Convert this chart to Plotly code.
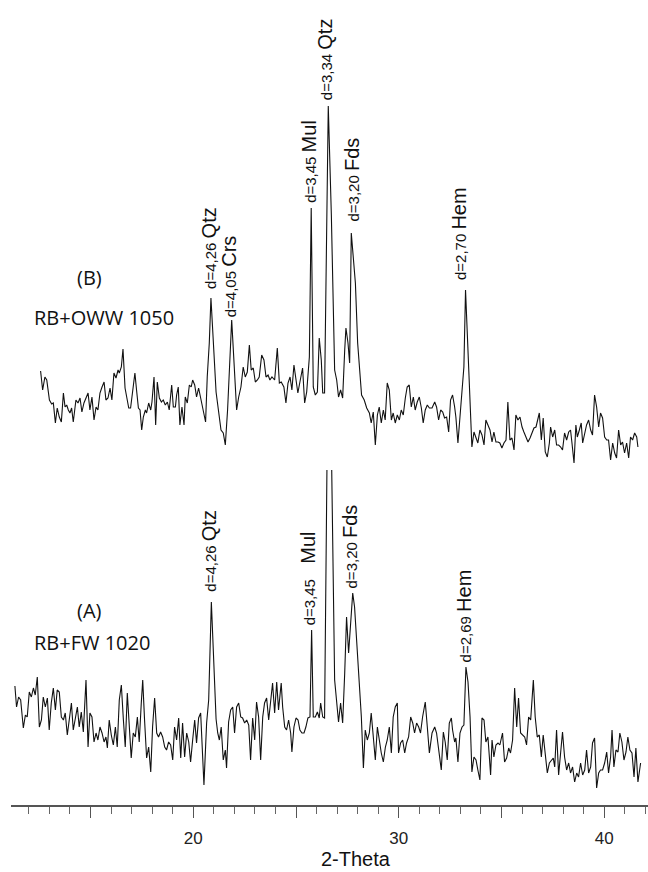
import plotly.graph_objects as go

# ---------------- data ----------------
# (B) RB+OWW 1050
b_two_theta = [
    12.57, 12.67, 12.78, 12.87, 13.00, 13.11, 13.19, 13.29, 13.38, 13.48,
    13.58, 13.68, 13.76, 13.84, 13.92, 14.00, 14.08, 14.16, 14.29, 14.39,
    14.49, 14.58, 14.68, 14.78, 14.88, 14.97, 15.07, 15.17, 15.27, 15.36,
    15.46, 15.56, 15.66, 15.75, 15.85, 15.95, 16.04, 16.14, 16.24, 16.34,
    16.40, 16.50, 16.58, 16.68, 16.76, 16.86, 16.95, 17.05, 17.16, 17.24,
    17.33, 17.41, 17.49, 17.57, 17.67, 17.73, 17.83, 17.93, 17.99, 18.09,
    18.17, 18.25, 18.35, 18.45, 18.54, 18.64, 18.74, 18.83, 18.95, 19.03,
    19.13, 19.19, 19.27, 19.35, 19.45, 19.55, 19.61, 19.71, 19.81, 19.90,
    19.97, 20.07, 20.16, 20.26, 20.33, 20.42, 20.52, 20.60, 20.68, 20.78,
    20.86, 21.11, 21.35, 21.46, 21.56, 21.67, 21.87, 22.00, 22.11, 22.21,
    22.32, 22.43, 22.53, 22.63, 22.73, 22.82, 22.92, 23.02, 23.12, 23.21,
    23.33, 23.44, 23.54, 23.64, 23.73, 23.83, 23.96, 24.09, 24.19, 24.28,
    24.41, 24.51, 24.61, 24.71, 24.80, 24.90, 25.00, 25.09, 25.19, 25.32,
    25.42, 25.52, 25.65, 25.74, 25.84, 25.94, 26.04, 26.13, 26.23, 26.30,
    26.39, 26.57, 26.72, 26.88, 26.98, 27.07, 27.17, 27.27, 27.37, 27.43,
    27.53, 27.61, 27.69, 27.79, 27.89, 28.00, 28.11, 28.19, 28.32, 28.44,
    28.57, 28.66, 28.76, 28.86, 28.96, 29.05, 29.15, 29.25, 29.34, 29.44,
    29.54, 29.64, 29.73, 29.83, 29.93, 30.03, 30.12, 30.22, 30.32, 30.41,
    30.51, 30.61, 30.71, 30.80, 30.90, 31.00, 31.10, 31.19, 31.29, 31.39,
    31.49, 31.62, 31.75, 31.84, 31.94, 32.04, 32.14, 32.23, 32.33, 32.43,
    32.52, 32.62, 32.72, 32.78, 32.88, 32.98, 33.08, 33.17, 33.25, 33.37,
    33.47, 33.56, 33.66, 33.76, 33.85, 33.95, 34.05, 34.15, 34.24, 34.34,
    34.44, 34.54, 34.63, 34.73, 34.83, 34.92, 35.02, 35.12, 35.22, 35.31,
    35.41, 35.51, 35.61, 35.70, 35.80, 35.90, 36.00, 36.09, 36.19, 36.29,
    36.39, 36.48, 36.58, 36.68, 36.77, 36.84, 36.94, 37.03, 37.13, 37.23,
    37.33, 37.39, 37.49, 37.59, 37.68, 37.78, 37.88, 37.97, 38.07, 38.17,
    38.27, 38.36, 38.43, 38.53, 38.62, 38.69, 38.79, 38.88, 38.95, 39.05,
    39.14, 39.24, 39.34, 39.43, 39.53, 39.63, 39.73, 39.82, 39.92, 40.02,
    40.12, 40.21, 40.31, 40.41, 40.51, 40.60, 40.70, 40.80, 40.89, 40.99,
    41.09, 41.19, 41.28, 41.38, 41.48, 41.58, 41.64,
]
b_intensity = [
    99, 80, 93, 90, 70, 66, 67, 47, 62, 53,
    48, 77, 63, 65, 60, 57, 62, 48, 70, 67,
    72, 58, 67, 72, 77, 60, 73, 50, 63, 60,
    77, 83, 88, 70, 72, 82, 70, 97, 92, 100,
    97, 103, 121, 82, 72, 62, 62, 82, 97, 80,
    62, 60, 40, 53, 60, 57, 67, 60, 68, 93,
    45, 88, 72, 68, 70, 65, 68, 60, 85, 63,
    63, 75, 83, 45, 63, 45, 73, 67, 85, 83,
    90, 85, 73, 82, 75, 65, 53, 48, 93, 127,
    172, 78, 40, 37, 25, 60, 150, 97, 60, 73,
    83, 103, 93, 98, 125, 100, 102, 88, 90, 93,
    115, 110, 93, 95, 90, 93, 90, 122, 87, 88,
    83, 67, 87, 93, 80, 105, 87, 77, 88, 102,
    67, 78, 113, 262, 83, 75, 78, 132, 110, 77,
    77, 364, 255, 100, 90, 73, 80, 72, 120, 142,
    127, 107, 237, 213, 187, 127, 93, 75, 70, 62,
    57, 47, 58, 25, 55, 63, 47, 60, 50, 87,
    80, 50, 57, 47, 55, 50, 60, 55, 72, 83,
    85, 63, 73, 60, 68, 73, 62, 47, 60, 65,
    62, 62, 68, 63, 50, 60, 58, 52, 53, 38,
    70, 75, 63, 53, 27, 53, 70, 103, 180, 120,
    73, 23, 38, 33, 27, 40, 35, 25, 50, 45,
    40, 28, 38, 28, 28, 27, 22, 27, 30, 68,
    30, 32, 20, 55, 50, 53, 43, 38, 33, 28,
    32, 37, 42, 43, 52, 57, 30, 52, 18, 13,
    27, 43, 33, 40, 25, 25, 23, 20, 37, 30,
    38, 40, 27, 7, 45, 33, 40, 47, 27, 37,
    45, 50, 40, 35, 75, 63, 43, 57, 52, 33,
    30, 30, 10, 27, 17, 12, 40, 25, 28, 17,
    27, 12, 33, 30, 37, 33, 23,
]

# (A) RB+FW 1020
a_two_theta = [
    11.32, 11.40, 11.50, 11.60, 11.73, 11.83, 11.92, 12.02, 12.12, 12.22,
    12.31, 12.41, 12.51, 12.61, 12.70, 12.80, 12.90, 12.99, 13.09, 13.19,
    13.29, 13.38, 13.48, 13.58, 13.68, 13.77, 13.87, 13.97, 14.07, 14.16,
    14.26, 14.36, 14.45, 14.55, 14.65, 14.78, 14.88, 14.97, 15.07, 15.17,
    15.27, 15.36, 15.46, 15.56, 15.66, 15.75, 15.82, 15.91, 16.01, 16.11,
    16.21, 16.30, 16.40, 16.50, 16.60, 16.69, 16.79, 16.89, 16.98, 17.08,
    17.18, 17.28, 17.37, 17.47, 17.54, 17.63, 17.73, 17.83, 17.93, 18.02,
    18.12, 18.22, 18.31, 18.41, 18.51, 18.61, 18.70, 18.80, 18.90, 19.00,
    19.09, 19.19, 19.29, 19.39, 19.48, 19.58, 19.68, 19.78, 19.87, 19.97,
    20.07, 20.16, 20.26, 20.36, 20.42, 20.52, 20.65, 20.75, 20.88, 20.98,
    21.11, 21.19, 21.27, 21.36, 21.46, 21.56, 21.62, 21.72, 21.82, 21.92,
    22.01, 22.11, 22.21, 22.31, 22.40, 22.50, 22.60, 22.70, 22.79, 22.89,
    22.99, 23.08, 23.18, 23.28, 23.38, 23.47, 23.57, 23.67, 23.77, 23.86,
    23.96, 24.06, 24.15, 24.28, 24.35, 24.45, 24.54, 24.64, 24.74, 24.80,
    24.90, 25.00, 25.10, 25.19, 25.29, 25.39, 25.48, 25.58, 25.68, 25.76,
    25.84, 25.94, 26.04, 26.13, 26.20, 26.30, 26.39, 26.60, 26.88, 26.98,
    27.07, 27.17, 27.27, 27.37, 27.46, 27.56, 27.66, 27.76, 27.85, 27.95,
    28.08, 28.18, 28.28, 28.37, 28.47, 28.57, 28.66, 28.76, 28.86, 28.96,
    29.05, 29.15, 29.25, 29.35, 29.44, 29.54, 29.64, 29.73, 29.83, 29.93,
    29.99, 30.09, 30.19, 30.29, 30.38, 30.48, 30.58, 30.68, 30.77, 30.87,
    30.97, 31.06, 31.16, 31.29, 31.39, 31.49, 31.62, 31.75, 31.84, 31.94,
    32.07, 32.17, 32.26, 32.36, 32.46, 32.56, 32.62, 32.72, 32.78, 32.88,
    32.98, 33.08, 33.17, 33.27, 33.37, 33.47, 33.56, 33.66, 33.76, 33.85,
    33.95, 34.05, 34.15, 34.24, 34.34, 34.41, 34.47, 34.54, 34.63, 34.73,
    34.83, 34.92, 35.05, 35.15, 35.25, 35.35, 35.44, 35.54, 35.64, 35.74,
    35.83, 35.93, 36.03, 36.13, 36.22, 36.32, 36.42, 36.55, 36.64, 36.74,
    36.84, 36.94, 37.03, 37.13, 37.23, 37.33, 37.42, 37.52, 37.59, 37.68,
    37.78, 37.88, 37.97, 38.07, 38.17, 38.27, 38.36, 38.46, 38.56, 38.66,
    38.75, 38.85, 38.95, 39.05, 39.14, 39.24, 39.34, 39.43, 39.53, 39.63,
    39.73, 39.82, 39.92, 40.02, 40.12, 40.21, 40.31, 40.38, 40.47, 40.57,
    40.67, 40.76, 40.86, 40.96, 41.06, 41.15, 41.25, 41.35, 41.45, 41.54,
    41.64, 41.77,
]
a_intensity = [
    119, 98, 108, 105, 77, 90, 88, 113, 108, 117,
    110, 128, 78, 85, 108, 98, 107, 75, 102, 117,
    95, 115, 113, 88, 85, 92, 70, 85, 102, 75,
    88, 98, 78, 93, 73, 125, 58, 92, 88, 63,
    72, 65, 78, 72, 63, 68, 57, 85, 70, 60,
    78, 58, 105, 120, 85, 58, 112, 78, 47, 72,
    68, 88, 63, 102, 125, 85, 47, 58, 33, 78,
    107, 72, 68, 73, 68, 58, 55, 63, 60, 45,
    78, 65, 87, 47, 82, 48, 72, 63, 43, 65,
    85, 62, 87, 92, 60, 20, 82, 105, 203, 145,
    86, 72, 65, 78, 45, 55, 37, 83, 95, 98,
    72, 98, 102, 88, 87, 82, 85, 80, 45, 87,
    65, 103, 88, 45, 88, 102, 107, 85, 102, 122,
    92, 123, 95, 122, 98, 78, 75, 85, 72, 53,
    78, 87, 85, 75, 72, 72, 78, 87, 88, 175,
    88, 88, 93, 87, 102, 88, 87, 540, 125, 102,
    83, 102, 82, 132, 188, 152, 178, 212, 198, 165,
    125, 88, 37, 75, 65, 72, 92, 72, 45, 78,
    65, 52, 43, 58, 65, 78, 52, 88, 98, 102,
    52, 62, 65, 52, 62, 68, 88, 82, 72, 82,
    78, 72, 88, 103, 78, 52, 72, 78, 72, 55,
    35, 73, 63, 45, 82, 87, 75, 63, 67, 43,
    72, 78, 80, 138, 123, 88, 33, 48, 45, 35,
    25, 87, 85, 63, 68, 48, 30, 65, 48, 60,
    62, 60, 72, 43, 47, 57, 52, 65, 117, 78,
    107, 72, 70, 68, 60, 88, 85, 125, 88, 68,
    70, 48, 70, 48, 32, 42, 45, 47, 38, 75,
    30, 55, 73, 48, 35, 42, 32, 38, 23, 32,
    28, 42, 30, 35, 55, 32, 38, 62, 67, 17,
    32, 35, 35, 42, 53, 32, 48, 75, 38, 55,
    53, 72, 63, 45, 53, 68, 55, 52, 28, 57,
    23, 42,
]

# peak labels: d-spacing text, phase, label anchor 2-theta, label anchor intensity
b_label_d = ["d=4,26", "d=4,05", "d=3,45", "d=3,34", "d=3,20", "d=2,70"]
b_label_phase = ["Qtz", "Crs", "Mul", "Qtz", "Fds", "Hem"]
b_label_x = [21.15, 22.14, 25.99, 26.81, 28.09, 33.30]
b_label_y = [181, 153, 267, 370, 248, 190]

a_label_d = ["d=4,26", "d=3,45", "d=3,20", "d=2,69"]
a_label_phase = ["Qtz", "&nbsp;&nbsp;Mul", "Fds", "Hem"]
a_label_x = [21.14, 25.99, 28.04, 33.56]
a_label_y = [213, 180, 217, 143]

x_tick_vals = [15, 20, 25, 30, 35, 40]
x_tick_text = ["", "20", "", "30", "", "40"]

# ---------------- figure ----------------
W, H = 648, 872
ML, MR, MT, MB = 11, 0, 20, 67
PW, PH = W - ML - MR, H - MT - MB

def px_to_paper_x(px):
    return (px - ML) / PW

def py_to_paper_y(py):
    return (H - MB - py) / PH

fig = go.Figure()
line_style = dict(color="#111111", width=1.1)
fig.add_trace(go.Scatter(x=a_two_theta, y=a_intensity, mode="lines",
                         line=line_style, xaxis="x", yaxis="y",
                         showlegend=False, hoverinfo="skip"))
fig.add_trace(go.Scatter(x=b_two_theta, y=b_intensity, mode="lines",
                         line=line_style, xaxis="x", yaxis="y2",
                         showlegend=False, hoverinfo="skip"))

annotations = []
d_font = dict(family="Liberation Sans, Arial, sans-serif", size=15, color="#111111")

def add_peak_labels(ds, phases, xs, ys, yref):
    for d, ph, x, y in zip(ds, phases, xs, ys):
        annotations.append(dict(
            x=x, y=y, xref="x", yref=yref,
            text=f"{d} <span style='font-size:20px'>{ph}</span>",
            textangle=-90, showarrow=False,
            xanchor="right", yanchor="bottom",
            xshift=5, yshift=-2, font=d_font,
        ))

add_peak_labels(b_label_d, b_label_phase, b_label_x, b_label_y, "y2")
add_peak_labels(a_label_d, a_label_phase, a_label_x, a_label_y, "y")

sample_font = dict(family="Open Sans, Noto Sans, sans-serif", size=20, color="#111111")
annotations += [
    dict(x=px_to_paper_x(89), y=py_to_paper_y(277), xref="paper", yref="paper",
         text="(B)", showarrow=False, xanchor="center", yanchor="middle", font=sample_font),
    dict(x=px_to_paper_x(32), y=py_to_paper_y(317), xref="paper", yref="paper",
         text="RB+OWW 1050", showarrow=False, xanchor="left", yanchor="middle", font=sample_font),
    dict(x=px_to_paper_x(89), y=py_to_paper_y(610), xref="paper", yref="paper",
         text="(A)", showarrow=False, xanchor="center", yanchor="middle", font=sample_font),
    dict(x=px_to_paper_x(32), y=py_to_paper_y(642), xref="paper", yref="paper",
         text="RB+FW 1020", showarrow=False, xanchor="left", yanchor="middle", font=sample_font),
    dict(x=px_to_paper_x(356), y=py_to_paper_y(859), xref="paper", yref="paper",
         text="2-Theta", showarrow=False, xanchor="center", yanchor="middle",
         font=dict(family="Liberation Sans, Arial, sans-serif", size=20, color="#111111")),
]

fig.update_layout(
    width=W, height=H,
    margin=dict(l=ML, r=MR, t=MT, b=MB, pad=0),
    paper_bgcolor="white", plot_bgcolor="white",
    xaxis=dict(
        range=[11.13, 42.13], anchor="y",
        showgrid=False, zeroline=False,
        showline=True, linecolor="#555555", linewidth=2,
        ticks="outside", ticklen=11, tickwidth=1, tickcolor="#555555",
        tickvals=x_tick_vals, ticktext=x_tick_text,
        ticklabelstandoff=6,
        tickfont=dict(family="Liberation Sans, Arial, sans-serif", size=17, color="#222222"),
        minor=dict(ticks="outside", dtick=1, tick0=0, ticklen=7, tickwidth=1,
                   tickcolor="#666666", showgrid=False),
    ),
    yaxis=dict(domain=[0, py_to_paper_y(463)], range=[0, 342], visible=False,
               showgrid=False, zeroline=False, fixedrange=True),
    yaxis2=dict(domain=[py_to_paper_y(470), 1], range=[0, 450], visible=False,
                showgrid=False, zeroline=False, anchor="x"),
    annotations=annotations,
)

fig.write_html("out.html")
